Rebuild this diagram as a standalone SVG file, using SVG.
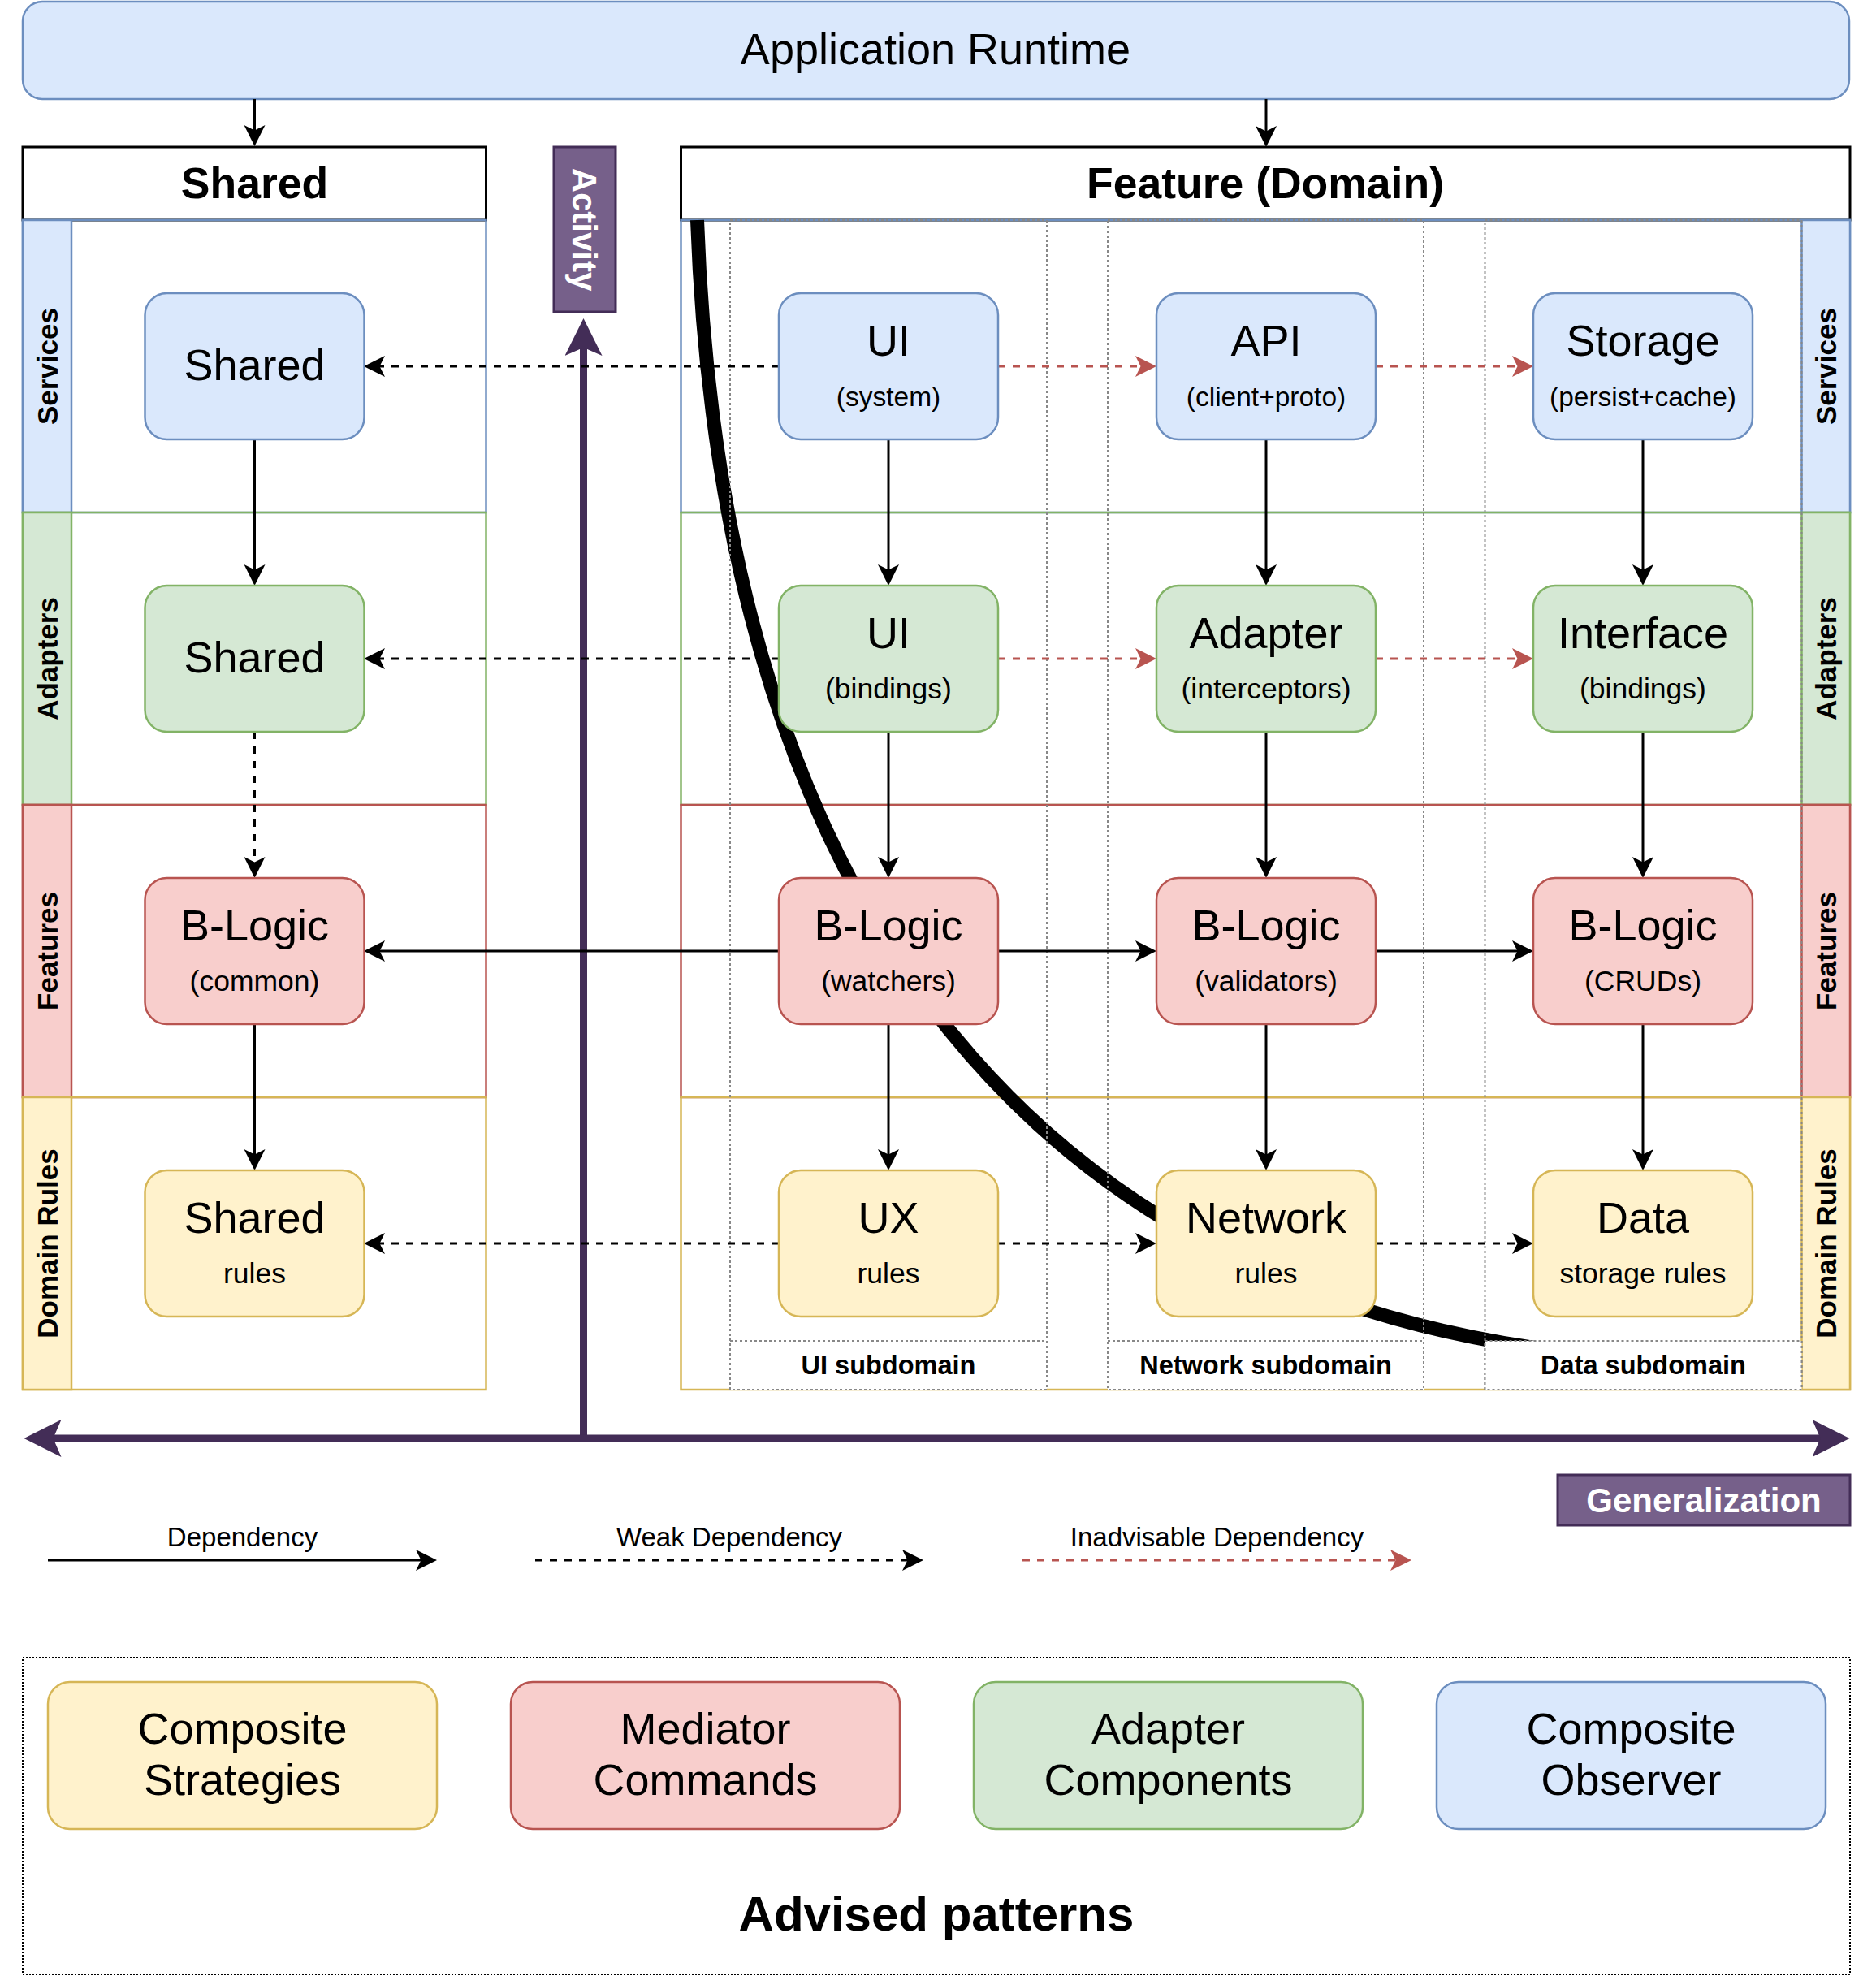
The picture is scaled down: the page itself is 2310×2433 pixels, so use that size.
<svg xmlns="http://www.w3.org/2000/svg" width="2310" height="2433" viewBox="0 0 2310 2433">
<style>
text{font-family:"Liberation Sans",Arial,Helvetica,sans-serif;fill:#000}
.title{font-size:54px;text-anchor:middle}
.sub{font-size:35.5px;text-anchor:middle}
.sub2{font-size:33.5px;text-anchor:middle}
.hdr{font-size:53.5px;font-weight:bold;text-anchor:middle}
.lbl{font-size:35px;font-weight:bold;text-anchor:middle}
.sd{font-size:32.5px;font-weight:bold;text-anchor:middle}
.leg{font-size:33px;text-anchor:middle}
.pat{font-size:54px;text-anchor:middle}
.wb{font-size:42px;font-weight:bold;text-anchor:middle;fill:#fff}
.blue{fill:#dae8fc;stroke:#6c8ebf;stroke-width:2.5}
.green{fill:#d5e8d4;stroke:#82b366;stroke-width:2.5}
.red{fill:#f8cecc;stroke:#b85450;stroke-width:2.5}
.yellow{fill:#fff2cc;stroke:#d6b656;stroke-width:2.5}
.purple{fill:#76608a;stroke:#432d57;stroke-width:3}
.hd{fill:#fff;stroke:#000;stroke-width:3}
.lb{fill:none;stroke:#6c8ebf;stroke-width:2.5}
.lg{fill:none;stroke:#82b366;stroke-width:2.5}
.lr{fill:none;stroke:#b85450;stroke-width:2.5}
.ly{fill:none;stroke:#d6b656;stroke-width:2.5}
.sdb{fill:none;stroke:#888;stroke-width:2;stroke-dasharray:3 3}
.sdl{fill:#fff;stroke:#888;stroke-width:2;stroke-dasharray:3 3}
.e{fill:none;stroke:#000;stroke-width:3;marker-end:url(#ah)}
.d{stroke-dasharray:9 9}
.r{fill:none;stroke:#b85450;stroke-width:3;stroke-dasharray:9 9;marker-end:url(#ahr)}
.big{fill:none;stroke:#432d57;stroke-width:9}
</style>
<defs>
<marker id="ah" viewBox="0 0 26 26" refX="20" refY="13" markerWidth="26" markerHeight="26" markerUnits="userSpaceOnUse" orient="auto"><path d="M0,0 L26,13 L0,26 L6.5,13 Z" fill="#000"/></marker>
<marker id="ahr" viewBox="0 0 26 26" refX="20" refY="13" markerWidth="26" markerHeight="26" markerUnits="userSpaceOnUse" orient="auto"><path d="M0,0 L26,13 L0,26 L6.5,13 Z" fill="#b85450"/></marker>
<marker id="ahp" viewBox="0 0 46 46" refX="36" refY="23" markerWidth="46" markerHeight="46" markerUnits="userSpaceOnUse" orient="auto-start-reverse"><path d="M0,0 L46,23 L0,46 L10,23 Z" fill="#432d57"/></marker>
</defs>

<!-- Application Runtime -->
<g id="app-runtime">
<rect class="blue" x="28" y="2" width="2249" height="120" rx="24"/>
<text x="1152" y="79" style="font-size:54px;text-anchor:middle">Application Runtime</text>
</g>

<!-- Shared pool -->
<g id="shared-pool">
<rect class="hd" x="28" y="181" width="570.5" height="90"/>
<text class="hdr" x="313.5" y="244">Shared</text>
<rect class="lb" x="28" y="271" width="570.5" height="360"/>
<rect class="blue" x="28" y="271" width="60" height="360"/>
<rect class="lg" x="28" y="631" width="570.5" height="360"/>
<rect class="green" x="28" y="631" width="60" height="360"/>
<rect class="lr" x="28" y="991" width="570.5" height="360"/>
<rect class="red" x="28" y="991" width="60" height="360"/>
<rect class="ly" x="28" y="1351" width="570.5" height="360"/>
<rect class="yellow" x="28" y="1351" width="60" height="360"/>
<text class="lbl" transform="translate(58,451) rotate(-90)" y="13">Services</text>
<text class="lbl" transform="translate(58,811) rotate(-90)" y="13">Adapters</text>
<text class="lbl" transform="translate(58,1171) rotate(-90)" y="13">Features</text>
<text class="lbl" transform="translate(58,1531) rotate(-90)" y="13">Domain Rules</text>
</g>

<!-- Feature pool -->
<g id="feature-pool">
<rect class="hd" x="838.5" y="181" width="1439.5" height="90"/>
<text class="hdr" x="1558" y="244">Feature (Domain)</text>
<rect class="lb" x="838.5" y="271" width="1439.5" height="360"/>
<rect class="blue" x="2218.5" y="271" width="59.5" height="360"/>
<rect class="lg" x="838.5" y="631" width="1439.5" height="360"/>
<rect class="green" x="2218.5" y="631" width="59.5" height="360"/>
<rect class="lr" x="838.5" y="991" width="1439.5" height="360"/>
<rect class="red" x="2218.5" y="991" width="59.5" height="360"/>
<rect class="ly" x="838.5" y="1351" width="1439.5" height="360"/>
<rect class="yellow" x="2218.5" y="1351" width="59.5" height="360"/>
<text class="lbl" transform="translate(2248,451) rotate(-90)" y="13">Services</text>
<text class="lbl" transform="translate(2248,811) rotate(-90)" y="13">Adapters</text>
<text class="lbl" transform="translate(2248,1171) rotate(-90)" y="13">Features</text>
<text class="lbl" transform="translate(2248,1531) rotate(-90)" y="13">Domain Rules</text>
</g>

<!-- Tradeoff curve -->
<g id="curve">
<path d="M858.5,271 C890,1150 1300,1590 1930,1665" fill="none" stroke="#000" stroke-width="17"/>
</g>

<!-- Subdomains -->
<g id="ui-subdomain">
<rect class="sdb" x="899" y="271" width="390" height="1440"/>
<rect class="sdl" x="899" y="1651" width="390" height="60"/>
<text class="sd" x="1094" y="1692">UI subdomain</text>
</g>
<g id="network-subdomain">
<rect class="sdb" x="1364" y="271" width="389" height="1440"/>
<rect class="sdl" x="1364" y="1651" width="389" height="60"/>
<text class="sd" x="1558.5" y="1692">Network subdomain</text>
</g>
<g id="data-subdomain">
<rect class="sdb" x="1828.5" y="271" width="390" height="1440"/>
<rect class="sdl" x="1828.5" y="1651" width="390" height="60"/>
<text class="sd" x="2023.5" y="1692">Data subdomain</text>
</g>

<!-- Activity / Generalization -->
<g id="activity">
<rect class="purple" x="682" y="181" width="76" height="203"/>
<text class="wb" transform="translate(720,282.5) rotate(90)" y="15">Activity</text>
</g>
<g id="generalization">
<rect class="purple" x="1918" y="1816" width="360" height="62"/>
<text class="wb" x="2098" y="1862">Generalization</text>
</g>
<g id="axes">
<path class="big" d="M718.5,1771 V402" marker-end="url(#ahp)"/>
<path class="big" d="M39.5,1771 H2267.5" marker-start="url(#ahp)" marker-end="url(#ahp)"/>
</g>

<!-- Connectors -->
<g id="connectors">
<path class="e" d="M313.5,122 V174"/>
<path class="e" d="M1559,122 V175"/>
<path class="e" d="M313.5,541 V715"/>
<path class="e d" d="M313.5,901 V1075"/>
<path class="e" d="M313.5,1261 V1435"/>
<path class="e d" d="M959,451 H454"/>
<path class="e d" d="M959,811 H454"/>
<path class="e" d="M959,1171 H454"/>
<path class="e d" d="M959,1531 H454"/>
<path class="r" d="M1229,451 H1418"/>
<path class="r" d="M1694,451 H1882"/>
<path class="r" d="M1229,811 H1418"/>
<path class="r" d="M1694,811 H1882"/>
<path class="e" d="M1229,1171 H1418"/>
<path class="e" d="M1694,1171 H1882"/>
<path class="e d" d="M1229,1531 H1418"/>
<path class="e d" d="M1694,1531 H1882"/>
<path class="e" d="M1094,541 V715"/>
<path class="e" d="M1094,901 V1075"/>
<path class="e" d="M1094,1261 V1435"/>
<path class="e" d="M1559,541 V715"/>
<path class="e" d="M1559,901 V1075"/>
<path class="e" d="M1559,1261 V1435"/>
<path class="e" d="M2023,541 V715"/>
<path class="e" d="M2023,901 V1075"/>
<path class="e" d="M2023,1261 V1435"/>
</g>

<!-- Shared nodes -->
<g id="shared-services">
<rect class="blue" x="178.5" y="361" width="270" height="180" rx="27"/>
<text class="title" x="313.5" y="468">Shared</text>
</g>
<g id="shared-adapters">
<rect class="green" x="178.5" y="721" width="270" height="180" rx="27"/>
<text class="title" x="313.5" y="828">Shared</text>
</g>
<g id="blogic-common">
<rect class="red" x="178.5" y="1081" width="270" height="180" rx="27"/>
<text class="title" x="313.5" y="1157.5">B-Logic</text>
<text class="sub" x="313.5" y="1219.5">(common)</text>
</g>
<g id="shared-rules">
<rect class="yellow" x="178.5" y="1441" width="270" height="180" rx="27"/>
<text class="title" x="313.5" y="1517.5">Shared</text>
<text class="sub" x="313.5" y="1579.5">rules</text>
</g>

<!-- Feature nodes: services -->
<g id="ui-system">
<rect class="blue" x="959" y="361" width="270" height="180" rx="27"/>
<text class="title" x="1094" y="437.5">UI</text>
<text class="sub2" x="1094" y="499.5">(system)</text>
</g>
<g id="api">
<rect class="blue" x="1424" y="361" width="270" height="180" rx="27"/>
<text class="title" x="1559" y="437.5">API</text>
<text class="sub2" x="1559" y="499.5">(client+proto)</text>
</g>
<g id="storage">
<rect class="blue" x="1888" y="361" width="270" height="180" rx="27"/>
<text class="title" x="2023" y="437.5">Storage</text>
<text class="sub2" x="2023" y="499.5">(persist+cache)</text>
</g>

<!-- adapters -->
<g id="ui-bindings">
<rect class="green" x="959" y="721" width="270" height="180" rx="27"/>
<text class="title" x="1094" y="797.5">UI</text>
<text class="sub" x="1094" y="859.5">(bindings)</text>
</g>
<g id="adapter">
<rect class="green" x="1424" y="721" width="270" height="180" rx="27"/>
<text class="title" x="1559" y="797.5">Adapter</text>
<text class="sub" x="1559" y="859.5">(interceptors)</text>
</g>
<g id="interface">
<rect class="green" x="1888" y="721" width="270" height="180" rx="27"/>
<text class="title" x="2023" y="797.5">Interface</text>
<text class="sub" x="2023" y="859.5">(bindings)</text>
</g>

<!-- features -->
<g id="blogic-watchers">
<rect class="red" x="959" y="1081" width="270" height="180" rx="27"/>
<text class="title" x="1094" y="1157.5">B-Logic</text>
<text class="sub" x="1094" y="1219.5">(watchers)</text>
</g>
<g id="blogic-validators">
<rect class="red" x="1424" y="1081" width="270" height="180" rx="27"/>
<text class="title" x="1559" y="1157.5">B-Logic</text>
<text class="sub" x="1559" y="1219.5">(validators)</text>
</g>
<g id="blogic-cruds">
<rect class="red" x="1888" y="1081" width="270" height="180" rx="27"/>
<text class="title" x="2023" y="1157.5">B-Logic</text>
<text class="sub" x="2023" y="1219.5">(CRUDs)</text>
</g>

<!-- domain rules -->
<g id="ux-rules">
<rect class="yellow" x="959" y="1441" width="270" height="180" rx="27"/>
<text class="title" x="1094" y="1517.5">UX</text>
<text class="sub" x="1094" y="1579.5">rules</text>
</g>
<g id="network-rules">
<rect class="yellow" x="1424" y="1441" width="270" height="180" rx="27"/>
<text class="title" x="1559" y="1517.5">Network</text>
<text class="sub" x="1559" y="1579.5">rules</text>
</g>
<g id="data-rules">
<rect class="yellow" x="1888" y="1441" width="270" height="180" rx="27"/>
<text class="title" x="2023" y="1517.5">Data</text>
<text class="sub" x="2023" y="1579.5">storage rules</text>
</g>

<!-- Legend -->
<g id="legend">
<text class="leg" x="298.5" y="1904">Dependency</text>
<path class="e" d="M59,1921 H532"/>
<text class="leg" x="898" y="1904">Weak Dependency</text>
<path class="e d" d="M659,1921 H1131"/>
<text class="leg" x="1498.5" y="1904">Inadvisable Dependency</text>
<path class="r" d="M1259,1921 H1732"/>
</g>

<!-- Advised patterns -->
<g id="advised-patterns">
<rect x="28" y="2041" width="2250" height="390" fill="none" stroke="#000" stroke-width="2" stroke-dasharray="2 2"/>
<text x="1153" y="2377" style="font-size:60px;font-weight:bold;text-anchor:middle">Advised patterns</text>
</g>
<g id="composite-strategies">
<rect class="yellow" x="59" y="2071" width="479" height="181" rx="27"/>
<text class="pat" x="298.5" y="2147">Composite</text>
<text class="pat" x="298.5" y="2210">Strategies</text>
</g>
<g id="mediator-commands">
<rect class="red" x="629" y="2071" width="479" height="181" rx="27"/>
<text class="pat" x="868.5" y="2147">Mediator</text>
<text class="pat" x="868.5" y="2210">Commands</text>
</g>
<g id="adapter-components">
<rect class="green" x="1199" y="2071" width="479" height="181" rx="27"/>
<text class="pat" x="1438.5" y="2147">Adapter</text>
<text class="pat" x="1438.5" y="2210">Components</text>
</g>
<g id="composite-observer">
<rect class="blue" x="1769" y="2071" width="479" height="181" rx="27"/>
<text class="pat" x="2008.5" y="2147">Composite</text>
<text class="pat" x="2008.5" y="2210">Observer</text>
</g>
</svg>
